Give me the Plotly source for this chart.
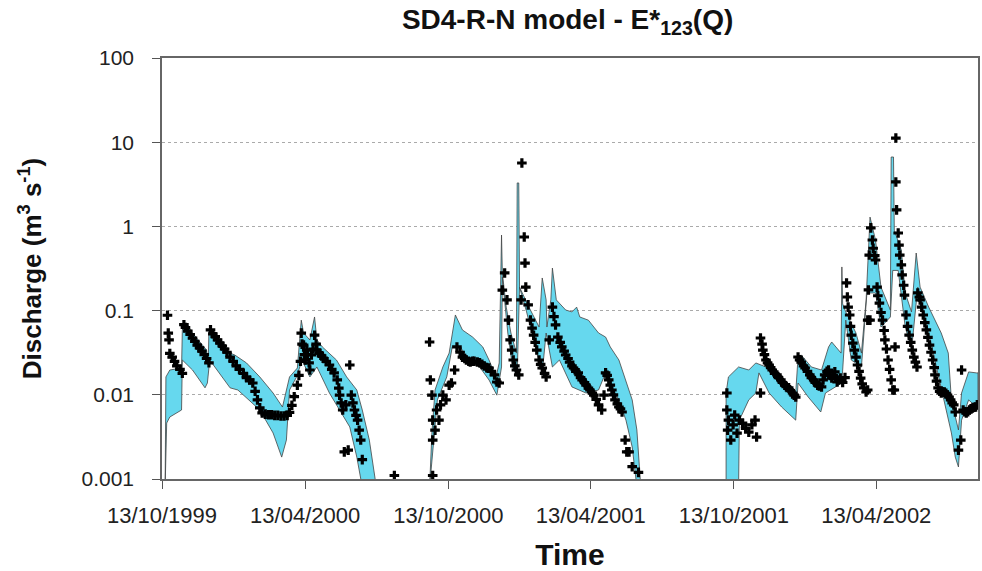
import plotly.graph_objects as go

# ---------------- data ----------------
# Segment 1 of the uncertainty band (Oct 1999 - Jul 2000)
s1_up_dates = ["1999-10-17","1999-10-18","1999-10-23","1999-11-07","1999-11-08","1999-11-13","1999-11-21",
               "1999-12-09","1999-12-11","1999-12-12","1999-12-15","2000-01-08","2000-01-14","2000-01-29",
               "2000-02-15","2000-03-03","2000-03-15","2000-03-24","2000-04-03","2000-04-08","2000-04-11",
               "2000-04-19","2000-04-25","2000-04-28","2000-05-05","2000-05-23","2000-06-05","2000-06-18",
               "2000-06-25","2000-07-04","2000-07-13"]
s1_up_q = [0.0008,0.0163,0.0197,0.0208,0.0589,0.0713,0.0542,
           0.034,0.0226,0.0589,0.0589,0.0313,0.0297,0.0239,
           0.0163,0.0105,0.00716,0.0163,0.0208,0.077,0.0542,
           0.0448,0.084,0.0448,0.037,0.0259,0.0163,0.0114,
           0.0066,0.0029,0.0008]
s1_lo_dates = ["1999-10-17","1999-10-19","1999-10-23","1999-11-07","1999-11-08","1999-11-21","1999-12-07",
               "1999-12-10","1999-12-13","2000-01-08","2000-01-18","2000-02-15","2000-03-03","2000-03-14",
               "2000-03-20","2000-03-24","2000-04-02","2000-04-09","2000-04-19","2000-04-28","2000-05-14",
               "2000-05-27","2000-06-09","2000-06-18","2000-06-25"]
s1_lo_q = [0.0008,0.00462,0.00545,0.0066,0.0259,0.0197,0.0121,
           0.0138,0.0259,0.0121,0.0114,0.0066,0.00352,0.00182,
           0.0029,0.0114,0.0163,0.0259,0.0163,0.0214,0.0105,
           0.0066,0.00415,0.00182,0.0008]

# Segment 2 of the band (Sep 2000 - Jun 2001)
s2_up_dates = ["2000-09-19","2000-09-22","2000-09-26","2000-10-06","2000-10-14","2000-10-18","2000-10-22",
               "2000-10-31","2000-11-13","2000-11-26","2000-12-04","2000-12-13","2000-12-17","2000-12-20",
               "2000-12-21","2000-12-26","2001-01-01","2001-01-08","2001-01-09","2001-01-11","2001-01-12",
               "2001-01-24","2001-02-06","2001-02-10","2001-02-15","2001-02-16","2001-02-21","2001-02-23",
               "2001-02-28","2001-03-12","2001-03-20","2001-03-26","2001-03-30","2001-04-10","2001-04-23",
               "2001-05-02","2001-05-08","2001-05-19","2001-05-28","2001-06-05","2001-06-11","2001-06-16"]
s2_up_q = [0.0008,0.00352,0.0114,0.0214,0.0313,0.0542,0.0887,
           0.0589,0.0485,0.037,0.0259,0.0163,0.0239,0.79,
           0.28,0.11,0.0542,0.0313,3.28,3.28,0.19,
           0.11,0.0638,0.244,0.134,0.0638,0.134,0.32,
           0.134,0.1016,0.0965,0.11,0.084,0.077,0.0542,
           0.0485,0.037,0.0259,0.015,0.0087,0.00382,0.0008]
s2_lo_dates = ["2000-09-19","2000-09-23","2000-09-29","2000-10-11","2000-10-18","2000-10-28","2000-11-09",
               "2000-11-22","2000-12-04","2000-12-14","2000-12-20","2000-12-21","2000-12-28","2001-01-03",
               "2001-01-09","2001-01-12","2001-01-21","2001-02-03","2001-02-10","2001-02-15","2001-02-23",
               "2001-03-04","2001-03-20","2001-04-07","2001-04-23","2001-05-02","2001-05-10","2001-05-19",
               "2001-05-28","2001-06-05","2001-06-11"]
s2_lo_q = [0.0008,0.0022,0.0087,0.0163,0.037,0.037,0.0259,
           0.0214,0.015,0.0099,0.0214,0.25,0.0542,0.0214,
           0.0163,0.19,0.0965,0.0313,0.0182,0.0542,0.0214,
           0.0259,0.0124,0.0105,0.0114,0.0182,0.0124,0.0087,
           0.005,0.0024,0.0008]

# Segment 3 of the band (Oct 2001 - Aug 2002)
s3_up_dates = ["2001-10-03","2001-10-03","2001-10-06","2001-10-19","2001-11-01","2001-11-10","2001-11-23",
               "2001-12-05","2001-12-22","2001-12-31","2002-01-03","2002-01-07","2002-01-20","2002-02-02",
               "2002-02-11","2002-02-15","2002-02-27","2002-02-28","2002-03-01","2002-03-05","2002-03-18",
               "2002-03-25","2002-03-31","2002-04-05","2002-04-12","2002-04-19","2002-05-01","2002-05-02",
               "2002-05-05","2002-05-06","2002-05-15","2002-05-20","2002-05-28","2002-06-03","2002-06-08",
               "2002-06-19","2002-07-05","2002-07-14","2002-07-18","2002-07-27","2002-07-31","2002-08-09",
               "2002-08-19","2002-08-21"]
s3_up_q = [0.0008,0.0105,0.0163,0.0214,0.0197,0.0239,0.0214,
           0.0163,0.0124,0.0105,0.0281,0.0297,0.0214,0.0197,
           0.037,0.0424,0.0313,0.33,0.12,0.0965,0.0542,
           0.0313,0.134,1.29,0.689,0.19,0.1016,6.67,
           6.67,0.9,0.524,0.162,0.0965,0.483,0.19,
           0.11,0.0542,0.0313,0.0087,0.00382,0.0105,0.0187,
           0.0182,0.0182]
s3_lo_dates = ["2001-10-03","2001-10-19","2001-10-20","2001-11-01","2001-11-10","2001-11-14","2001-11-27",
               "2001-12-13","2001-12-31","2002-01-03","2002-01-16","2002-02-01","2002-02-07","2002-02-20",
               "2002-02-28","2002-03-05","2002-03-12","2002-03-25","2002-04-01","2002-04-12","2002-04-19",
               "2002-05-01","2002-05-04","2002-05-11","2002-05-20","2002-05-28","2002-06-05","2002-06-19",
               "2002-07-05","2002-07-18","2002-07-23","2002-07-27","2002-07-31","2002-08-09","2002-08-19",
               "2002-08-21"]
s3_lo_q = [0.0008,0.0008,0.005,0.0087,0.0105,0.0182,0.0105,
           0.00716,0.005,0.0138,0.0094,0.00625,0.0105,0.0124,
           0.0138,0.077,0.0259,0.0214,0.162,0.162,0.0638,
           0.084,0.3,0.3,0.0638,0.034,0.19,0.0542,
           0.0124,0.00352,0.00182,0.00139,0.005,0.0087,0.00716,
           0.00716]

# Observed discharge
obs_dates = [
    # 1999-2000
    "1999-10-20","1999-10-21","1999-10-22","1999-10-23","1999-10-26","1999-10-29","1999-11-01","1999-11-05",
    "1999-11-08","1999-11-10","1999-11-12","1999-11-15","1999-11-18","1999-11-21","1999-11-24","1999-11-27",
    "1999-11-30","1999-12-03","1999-12-06","1999-12-09","1999-12-12","1999-12-14","1999-12-17","1999-12-20",
    "1999-12-23","1999-12-26","1999-12-29","2000-01-01","2000-01-04","2000-01-08","2000-01-12","2000-01-16",
    "2000-01-20","2000-01-25","2000-01-29","2000-02-02","2000-02-06","2000-02-09","2000-02-12","2000-02-15",
    "2000-02-18","2000-02-22","2000-02-26","2000-03-01","2000-03-05","2000-03-09","2000-03-13","2000-03-17",
    "2000-03-21","2000-03-24","2000-03-27","2000-03-30","2000-04-03","2000-04-05","2000-04-07","2000-04-08",
    "2000-04-09","2000-04-11","2000-04-12","2000-04-13","2000-04-15","2000-04-16","2000-04-18","2000-04-19",
    "2000-04-21","2000-04-23","2000-04-25","2000-04-27","2000-04-28","2000-05-01","2000-05-04","2000-05-07",
    "2000-05-10","2000-05-14","2000-05-17","2000-05-20","2000-05-24","2000-05-26","2000-05-27","2000-05-29",
    "2000-05-31","2000-06-02","2000-06-04","2000-06-07","2000-06-09","2000-06-11","2000-06-13","2000-06-15",
    "2000-06-17","2000-06-19","2000-06-21","2000-06-23","2000-06-25","2000-08-05",
    # 2000-2001
    "2000-09-19","2000-09-20","2000-09-22","2000-09-23","2000-09-23","2000-09-23","2000-09-26","2000-09-28",
    "2000-10-01","2000-10-03","2000-10-06","2000-10-10","2000-10-14","2000-10-17","2000-10-21","2000-10-24",
    "2000-10-28","2000-10-31","2000-11-03","2000-11-05","2000-11-08","2000-11-10","2000-11-13","2000-11-15",
    "2000-11-19","2000-11-22","2000-11-25","2000-11-28","2000-12-01","2000-12-04","2000-12-07","2000-12-11",
    "2000-12-14","2000-12-17","2000-12-21","2000-12-24","2000-12-27","2000-12-29","2000-12-31","2001-01-02",
    "2001-01-04","2001-01-06","2001-01-08","2001-01-11","2001-01-14","2001-01-15","2001-01-18","2001-01-19",
    "2001-01-20","2001-01-23","2001-01-26","2001-01-28","2001-01-30","2001-02-01","2001-02-03","2001-02-06",
    "2001-02-08","2001-02-10","2001-02-13","2001-02-15","2001-02-19","2001-02-23","2001-02-25","2001-02-27",
    "2001-03-02","2001-03-05","2001-03-07","2001-03-10","2001-03-12","2001-03-15","2001-03-17","2001-03-20",
    "2001-03-22","2001-03-25","2001-03-28","2001-03-31","2001-04-02","2001-04-05","2001-04-07","2001-04-10",
    "2001-04-12","2001-04-15","2001-04-17","2001-04-20","2001-04-23","2001-04-27","2001-04-30","2001-05-02",
    "2001-05-04","2001-05-06","2001-05-08","2001-05-10","2001-05-12","2001-05-14","2001-05-17","2001-05-19",
    "2001-05-21","2001-05-23","2001-05-27","2001-05-29","2001-06-01","2001-06-05","2001-06-13",
    # 2001-2002
    "2001-10-04","2001-10-04","2001-10-05","2001-10-06","2001-10-09","2001-10-12","2001-10-14","2001-10-17",
    "2001-10-20","2001-10-24","2001-10-28","2001-11-01","2001-11-05","2001-11-09","2001-11-11","2001-11-16",
    "2001-11-16","2001-11-18","2001-11-19","2001-11-21","2001-11-23","2001-11-25","2001-11-27","2001-11-29",
    "2001-12-01","2001-12-04","2001-12-07","2001-12-09","2001-12-12","2001-12-14","2001-12-17","2001-12-19",
    "2001-12-22","2001-12-24","2001-12-27","2001-12-29","2001-12-31","2002-01-03","2002-01-05","2002-01-07",
    "2002-01-10","2002-01-12","2002-01-15","2002-01-18","2002-01-20","2002-01-23","2002-01-25","2002-01-28",
    "2002-01-30","2002-02-02","2002-02-04","2002-02-06","2002-02-09","2002-02-11","2002-02-13","2002-02-15",
    "2002-02-17","2002-02-19","2002-02-22","2002-02-24","2002-02-26","2002-03-01","2002-03-04","2002-03-06",
    "2002-03-07","2002-03-08","2002-03-10","2002-03-11","2002-03-12","2002-03-14","2002-03-16","2002-03-18",
    "2002-03-20","2002-03-22","2002-03-24","2002-03-26","2002-03-28","2002-03-31","2002-04-02","2002-04-02",
    "2002-04-03","2002-04-04","2002-04-05","2002-04-06","2002-04-08","2002-04-09","2002-04-11","2002-04-12",
    "2002-04-14","2002-04-15","2002-04-17","2002-04-19","2002-04-21","2002-04-23","2002-04-24","2002-04-26",
    "2002-04-28","2002-04-30","2002-05-02","2002-05-04","2002-05-06","2002-05-07","2002-05-08","2002-05-08",
    "2002-05-09","2002-05-11","2002-05-12","2002-05-13","2002-05-15","2002-05-16","2002-05-18","2002-05-19",
    "2002-05-21","2002-05-23","2002-05-25","2002-05-27","2002-05-29","2002-05-31","2002-06-02","2002-06-04",
    "2002-06-05","2002-06-07","2002-06-08","2002-06-10","2002-06-12","2002-06-14","2002-06-16","2002-06-18",
    "2002-06-20","2002-06-22","2002-06-24","2002-06-26","2002-06-27","2002-06-29","2002-07-01","2002-07-03",
    "2002-07-05","2002-07-07","2002-07-09","2002-07-11","2002-07-13","2002-07-15","2002-07-17","2002-07-19",
    "2002-07-21","2002-07-23","2002-07-27","2002-07-30","2002-07-31","2002-08-02","2002-08-04","2002-08-06",
    "2002-08-08","2002-08-10","2002-08-12","2002-08-14","2002-08-16","2002-08-18","2002-08-20"]
obs_q = [
    # 1999-2000
    0.088,0.054,0.045,0.031,0.028,0.025,0.022,0.020,
    0.018,0.068,0.063,0.057,0.052,0.047,0.043,0.039,
    0.036,0.033,0.030,0.027,0.024,0.059,0.053,0.049,
    0.045,0.041,0.038,0.035,0.032,0.028,0.025,0.022,
    0.020,0.018,0.016,0.015,0.0138,0.011,0.0087,0.007,
    0.0061,0.0059,0.0058,0.0058,0.0057,0.0057,0.0056,0.0056,
    0.0057,0.0062,0.0075,0.0095,0.013,0.017,0.025,0.054,
    0.04,0.039,0.03,0.026,0.034,0.03,0.024,0.0197,
    0.0297,0.035,0.051,0.04,0.034,0.0313,0.029,0.027,
    0.025,0.0226,0.020,0.0182,0.015,0.012,0.0099,0.008,
    0.0066,0.0021,0.0076,0.0022,0.0226,0.0099,0.008,0.0066,
    0.0057,0.005,0.0038,0.0029,0.0017,0.0011,
    # 2000-2001
    0.0424,0.015,0.0099,0.005,0.0029,0.0011,0.0038,0.0066,
    0.005,0.0076,0.0099,0.0087,0.013,0.0138,0.0197,0.037,
    0.032,0.028,0.027,0.0259,0.025,0.0245,0.025,0.025,
    0.0245,0.024,0.023,0.022,0.021,0.0208,0.019,0.0172,
    0.0142,0.0138,0.175,0.28,0.134,0.077,0.045,0.034,
    0.0259,0.022,0.0197,0.0172,0.134,5.66,0.748,0.367,
    0.19,0.117,0.077,0.062,0.051,0.042,0.034,0.0259,
    0.023,0.0208,0.018,0.0163,0.0448,0.11,0.085,0.0675,
    0.0485,0.042,0.037,0.033,0.0297,0.027,0.0245,0.022,
    0.0208,0.019,0.0182,0.016,0.015,0.014,0.013,0.012,
    0.0114,0.0105,0.0099,0.0088,0.0076,0.0066,0.0099,0.0182,
    0.017,0.015,0.013,0.0114,0.010,0.0087,0.0078,0.00716,
    0.0068,0.00625,0.0029,0.0021,0.0021,0.0014,0.0012,
    # 2001-2002
    0.0105,0.0066,0.0038,0.005,0.0029,0.0044,0.00575,0.0035,
    0.005,0.0046,0.004,0.0036,0.0044,0.005,0.00315,0.0105,
    0.0473,0.040,0.034,0.030,0.0259,0.024,0.0226,0.021,
    0.0197,0.018,0.0172,0.016,0.015,0.014,0.013,0.0125,
    0.0121,0.0112,0.0105,0.0099,0.0094,0.0281,0.026,0.0245,
    0.022,0.0208,0.019,0.0172,0.016,0.015,0.014,0.013,
    0.0127,0.0124,0.015,0.0172,0.019,0.0197,0.017,0.0158,
    0.017,0.0187,0.0142,0.015,0.0158,0.014,0.016,0.213,
    0.145,0.11,0.0887,0.065,0.051,0.041,0.034,0.028,
    0.0226,0.019,0.0158,0.0135,0.0121,0.0108,0.0114,0.077,
    0.176,0.457,0.077,0.96,0.689,0.55,0.45,0.399,
    0.19,0.15,0.123,0.095,0.077,0.058,0.0448,0.035,
    0.0259,0.02,0.015,0.0114,0.0114,0.037,11.2,3.37,
    1.57,0.835,0.6,0.457,0.35,0.265,0.2,0.153,
    0.0887,0.065,0.051,0.042,0.034,0.028,0.0245,0.0214,
    0.162,0.145,0.134,0.11,0.0887,0.072,0.0589,0.048,
    0.039,0.032,0.0259,0.021,0.0172,0.0145,0.0121,0.011,
    0.0105,0.0108,0.0108,0.0104,0.0099,0.0094,0.0087,0.008,
    0.0076,0.00625,0.0022,0.0029,0.0197,0.0066,0.0063,0.0061,
    0.0063,0.0066,0.0068,0.00696,0.0071,0.00716,0.0076]

x_tick_dates = ["1999-10-13","2000-04-13","2000-10-13","2001-04-13","2001-10-13","2002-04-13"]
x_tick_text = ["13/10/1999","13/04/2000","13/10/2000","13/04/2001","13/10/2001","13/04/2002"]
y_tick_vals = [0.001, 0.01, 0.1, 1, 10, 100]
y_tick_text = ["0.001", "0.01", "0.1", "1", "10", "100"]

# ---------------- figure ----------------
FONT = "Liberation Sans, Arial, sans-serif"
BAND_FILL = "#66D8EE"

fig = go.Figure()
segments = [(s1_up_dates, s1_up_q, s1_lo_dates, s1_lo_q),
            (s2_up_dates, s2_up_q, s2_lo_dates, s2_lo_q),
            (s3_up_dates, s3_up_q, s3_lo_dates, s3_lo_q)]
for ud, uq, ld, lq in segments:
    fig.add_trace(go.Scatter(
        x=ud + ld[::-1], y=uq + lq[::-1],
        mode="lines", fill="toself", fillcolor=BAND_FILL,
        line=dict(color="#444444", width=0.8),
        hoverinfo="skip", showlegend=False))

fig.add_trace(go.Scatter(
    x=obs_dates, y=obs_q, mode="markers",
    marker=dict(symbol="cross", size=8, color="black", line=dict(width=0)),
    showlegend=False))

fig.update_layout(
    width=982, height=571,
    margin=dict(l=162, r=2, t=58, b=92),
    paper_bgcolor="white", plot_bgcolor="white",
    font=dict(family=FONT, color="#222222"),
    title=dict(text="<b>SD4-R-N model - E*<sub>123</sub>(Q)</b>",
               x=0.578, xanchor="center", y=0.967, yanchor="middle", yref="container",
               font=dict(size=28, color="#111111", family=FONT)),
)
fig.update_xaxes(
    range=["1999-10-13", "2002-08-21"],
    tickvals=x_tick_dates, ticktext=x_tick_text,
    tickfont=dict(size=22), ticks="outside", ticklen=8, tickcolor="#555555",
    ticklabelstandoff=8,
    showline=True, linecolor="#666666", linewidth=1.5, mirror=True,
    showgrid=False, zeroline=False,
    title=dict(text="<b>Time</b>", font=dict(size=30, color="#111111"), standoff=18),
)
fig.update_yaxes(
    type="log", range=[-3, 2],
    tickvals=y_tick_vals, ticktext=y_tick_text,
    tickfont=dict(size=21), ticks="outside", ticklen=8, tickcolor="#555555",
    ticklabelstandoff=14,
    showline=True, linecolor="#666666", linewidth=1.5, mirror=True,
    showgrid=True, gridcolor="#aaaaaa", griddash="dot", gridwidth=1,
    zeroline=False,
    title=dict(text="<b>Discharge (m<sup>3</sup> s<sup>-1</sup>)</b>", font=dict(size=26, color="#111111"), standoff=32),
)

fig.write_html("out.html")
